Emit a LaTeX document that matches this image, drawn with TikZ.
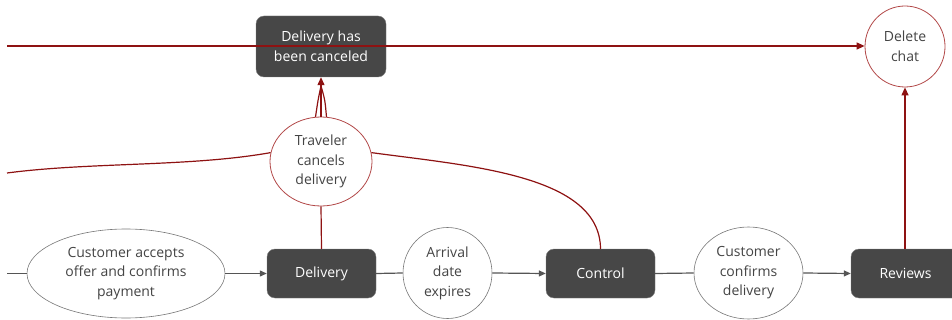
\documentclass[tikz,border=0pt]{standalone}
\usepackage{fontspec}
\setmainfont{Open Sans}
\usetikzlibrary{arrows.meta,shapes.geometric}
\definecolor{boxgray}{HTML}{474747}
\definecolor{txtgray}{HTML}{444444}
\definecolor{linegray}{HTML}{555555}
\definecolor{darkred}{HTML}{8E1212}
\definecolor{circred}{HTML}{B24848}
\tikzset{
  txt/.style={font=\fontsize{14}{19.5}\selectfont, align=center},
  darkbox/.style={txt, rectangle, rounded corners=8pt, fill=boxgray, draw=boxgray!70, text=white, inner sep=0pt},
  graycirc/.style={txt, ellipse, draw=linegray!80, line width=0.6pt, fill=white, text=txtgray, inner sep=0pt},
  redcirc/.style={txt, ellipse, draw=circred, line width=0.8pt, fill=white, text=txtgray, inner sep=0pt},
  grayline/.style={draw=linegray, line width=1.2pt},
  grayarrow/.style={grayline, -{Triangle[length=7pt,width=6pt]}},
  redline/.style={draw=darkred, line width=1.2pt},
  redarrow/.style={redline, -{Triangle[length=8pt,width=7pt]}},
}
\begin{document}
\begin{tikzpicture}[x=1pt,y=-1pt]
\useasboundingbox (0,0) rectangle (952,320);
\clip (0,0) rectangle (952,320);
% nodes
\node[darkbox, minimum width=130pt, minimum height=61pt] (canc) at (321,46.5) {Delivery has\\been canceled};
\node[redcirc, minimum width=80pt, minimum height=81pt] (del) at (905,46.5) {Delete\\chat};
\node[redcirc, minimum width=102pt, minimum height=89pt] (trav) at (321,161.5) {Traveler\\cancels\\delivery};
\node[graycirc, minimum width=198pt, minimum height=89pt] (acc) at (126,273.5) {Customer accepts\\offer and confirms\\payment};
\node[darkbox, minimum width=109pt, minimum height=49pt] (dlv) at (321.5,273.5) {Delivery};
\node[graycirc, minimum width=89pt, minimum height=91pt] (arr) at (447.5,273) {Arrival\\date\\expires};
\node[darkbox, minimum width=109pt, minimum height=49pt] (ctl) at (600.5,273.5) {Control};
\node[graycirc, minimum width=109pt, minimum height=92pt] (conf) at (748.5,273) {Customer\\confirms\\delivery};
\node[darkbox, minimum width=109pt, minimum height=49pt] (rev) at (905.5,273.5) {Reviews};
\coordinate (leftA) at (7,46);
\coordinate (leftB) at (7,173);
\coordinate (leftC) at (7,273.5);
% red connectors
\draw[redarrow] (leftA) -- (del.west |- leftA);
\draw[redline] (leftB) .. controls (90,162) and (190,167) .. (trav.170);
\draw[redline] (trav.10) .. controls (470,166) and (600,175) .. (ctl.north);
\draw[redline] (trav.south) -- (dlv.north);
\draw[redarrow] (rev.north -| del.south) -- (del.south);
\coordinate (fan) at (321,86);
\draw[redline] (trav.97) .. controls (318,100) .. (fan);
\draw[redline] (trav.83) .. controls (325,100) .. (fan);
\draw[redline] (trav.north) -- (fan);
\draw[redarrow] (fan) -- (canc.south);
% gray connectors
\draw[grayline] (leftC) -- (acc.west);
\draw[grayarrow] (acc.east) -- (dlv.west);
\draw[grayline] (dlv.east) -- (arr.west);
\draw[grayarrow] (arr.east) -- (ctl.west);
\draw[grayline] (ctl.east) -- (conf.west);
\draw[grayarrow] (conf.east) -- (rev.west);
\end{tikzpicture}
\end{document}
